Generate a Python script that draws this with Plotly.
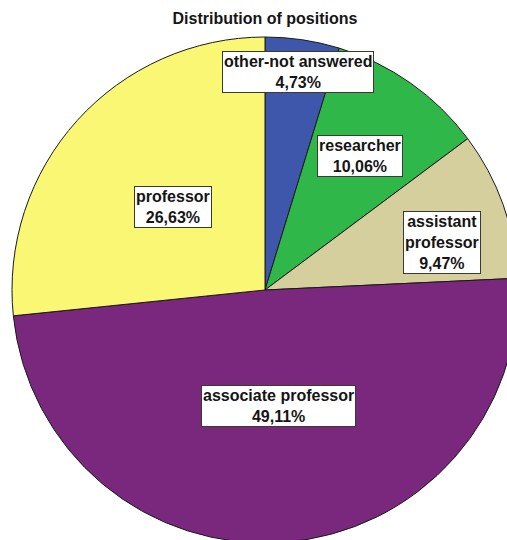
import math
import plotly.graph_objects as go

# Survey responses by position (counts)
positions = ["other-not answered", "researcher", "assistant<br>professor",
             "associate professor", "professor"]
counts = [8, 17, 16, 83, 45]
colors = ["#3F57AB", "#2FB749", "#D5CF9E", "#79287D", "#FAF774"]
# how far from the centre each label box sits (fraction of the radius)
label_radius = [0.87, 0.65, 0.72, 0.48, 0.49]
# small pixel nudges so boxes sit clear of slice edges
label_nudge = [(0, 0), (0, 0), (6, -14), (4, 5), (0, 0)]

total = sum(counts)
shares = [c / total * 100 for c in counts]

FONT = "Liberation Sans, Arial, sans-serif"

fig = go.Figure(go.Pie(
    labels=positions,
    values=counts,
    sort=False,
    direction="clockwise",
    rotation=0,
    marker=dict(colors=colors, line=dict(color="#1a1a1a", width=1)),
    textinfo="none",
    hoverinfo="label+percent",
    showlegend=False,
    domain=dict(x=[0, 1], y=[0, 1]),
))

# boxed labels at each slice's mid-angle
cum = 0.0
for name, share, rf, (nx, ny) in zip(positions, shares, label_radius, label_nudge):
    mid = (cum + share / 2) / 100 * 2 * math.pi
    cum += share
    fig.add_annotation(
        x=0.5 + rf * math.sin(mid) / 2,
        y=0.5 + rf * math.cos(mid) / 2,
        xref="paper", yref="paper",
        xanchor="center", yanchor="middle",
        xshift=nx, yshift=ny,
        text=f"<b>{name}<br>{share:.2f}%</b>".replace(".", ","),
        showarrow=False,
        font=dict(family=FONT, size=16, color="#151515"),
        bgcolor="white",
        bordercolor="#3a3a30",
        borderwidth=1,
        borderpad=1,
        align="center",
    )

fig.update_layout(
    width=530,
    height=550,
    margin=dict(l=12, r=12, t=37, b=7),
    paper_bgcolor="white",
    title=dict(
        text="<b>Distribution of positions</b>",
        x=0.5, xanchor="center",
        y=1 - 18 / 550, yanchor="middle",
        font=dict(family=FONT, size=16, color="#151515"),
    ),
)

fig.write_html(
    "out.html",
    post_script="document.body.style.margin='0';document.body.style.overflow='hidden';"
                "document.documentElement.style.overflow='hidden';",
)
